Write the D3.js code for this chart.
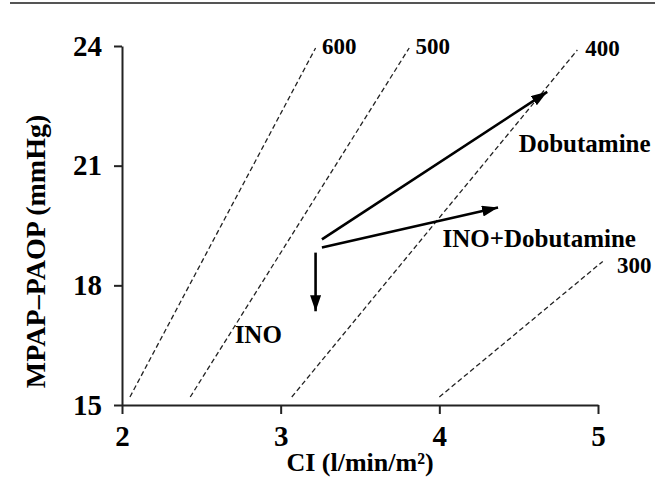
<!DOCTYPE html>
<html>
<head>
<meta charset="utf-8">
<script src="https://cdn.jsdelivr.net/npm/d3@7"></script>
<style>
  body { margin: 0; background: #fff; }
  svg { display: block; }
  text { font-family: "Liberation Serif", "DejaVu Serif", serif; font-weight: bold; fill: #000; }
</style>
</head>
<body>
<div id="root"></div>
<script>
// axis ticks
const xTicks = [2, 3, 4, 5];
const yTicks = [15, 18, 21, 24];

// iso-resistance lines, endpoints as [CI, MPAP-PAOP]
const isoNames = ["600", "500", "400", "300"];
const isoStart = [[2.05, 15.2], [2.43, 15.2], [3.07, 15.2], [4.0, 15.2]];
const isoEnd = [[3.22, 23.95], [3.81, 23.95], [4.87, 23.9], [5.03, 18.6]];
// label anchors [CI, MPAP-PAOP]
const isoLabelAt = [[3.26, 23.8], [3.85, 23.8], [4.92, 23.75], [5.12, 18.3]];

// treatment arrows, [CI, MPAP-PAOP]
const arrowNames = ["Dobutamine", "INO+Dobutamine", "INO"];
const arrowFrom = [[3.26, 19.15], [3.26, 18.95], [3.22, 18.82]];
const arrowTo = [[4.68, 22.85], [4.37, 19.95], [3.22, 17.35]];
// label anchors [CI, MPAP-PAOP]
const arrowLabelAt = [[4.5, 21.35], [4.02, 18.95], [2.71, 16.55]];

var svg = d3
		.select("#root")
		.append("svg")
		.attr("width", 663)
		.attr("height", 479),
	x = d3.scaleLinear().domain([2, 5]).range([122, 598]),
	y = d3.scaleLinear().domain([15, 24]).range([405, 46]);

// rule across the top
svg.append("line")
	.attr("x1", 10).attr("x2", 655)
	.attr("y1", 3).attr("y2", 3)
	.attr("stroke", "#555")
	.attr("stroke-width", 2);

svg.append("defs")
	.append("marker")
	.attr("id", "head")
	.attr("viewBox", "0 -5 10 10")
	.attr("refX", 10)
	.attr("refY", 0)
	.attr("markerWidth", 16)
	.attr("markerHeight", 11)
	.attr("markerUnits", "userSpaceOnUse")
	.attr("orient", "auto")
	.attr("preserveAspectRatio", "none")
	.append("path")
	.attr("d", "M0,-5L10,0L0,5Z")
	.attr("fill", "#000");

const xAxis = svg
	.append("g")
	.attr("transform", `translate(0,${y(15)})`)
	.call(d3.axisBottom(x).tickValues(xTicks).tickFormat(d3.format("d")).tickSize(9).tickSizeOuter(0).tickPadding(11));

const yAxis = svg
	.append("g")
	.attr("transform", `translate(${x(2)},0)`)
	.call(d3.axisLeft(y).tickValues(yTicks).tickSize(8).tickSizeOuter(0).tickPadding(12));

[xAxis, yAxis].forEach((a) => {
	a.selectAll("path, line").attr("stroke", "#222").attr("stroke-width", 2);
	a.selectAll("text").attr("font-size", 29).attr("fill", "#000");
});

svg.append("text")
	.attr("x", 360)
	.attr("y", 471)
	.attr("text-anchor", "middle")
	.attr("font-size", 26)
	.text("CI (l/min/m²)");

svg.append("text")
	.attr("transform", `translate(45,${y(18.85)}) rotate(-90)`)
	.attr("text-anchor", "middle")
	.attr("font-size", 28)
	.text("MPAP–PAOP (mmHg)");

// dashed iso lines
const iso = svg.append("g");
isoNames.forEach((name, i) => {
	iso.append("line")
		.attr("x1", x(isoStart[i][0])).attr("y1", y(isoStart[i][1]))
		.attr("x2", x(isoEnd[i][0])).attr("y2", y(isoEnd[i][1]))
		.attr("stroke", "#222")
		.attr("stroke-width", 1.3)
		.attr("stroke-dasharray", "5,3");
	iso.append("text")
		.attr("x", x(isoLabelAt[i][0]))
		.attr("y", y(isoLabelAt[i][1]))
		.attr("font-size", 23)
		.text(name);
});

// arrows
const arrows = svg.append("g");
arrowNames.forEach((name, i) => {
	arrows.append("line")
		.attr("x1", x(arrowFrom[i][0])).attr("y1", y(arrowFrom[i][1]))
		.attr("x2", x(arrowTo[i][0])).attr("y2", y(arrowTo[i][1]))
		.attr("stroke", "#000")
		.attr("stroke-width", 2.6)
		.attr("marker-end", "url(#head)");
	arrows.append("text")
		.attr("x", x(arrowLabelAt[i][0]))
		.attr("y", y(arrowLabelAt[i][1]))
		.attr("font-size", 25)
		.text(name);
});
</script>
</body>
</html>
